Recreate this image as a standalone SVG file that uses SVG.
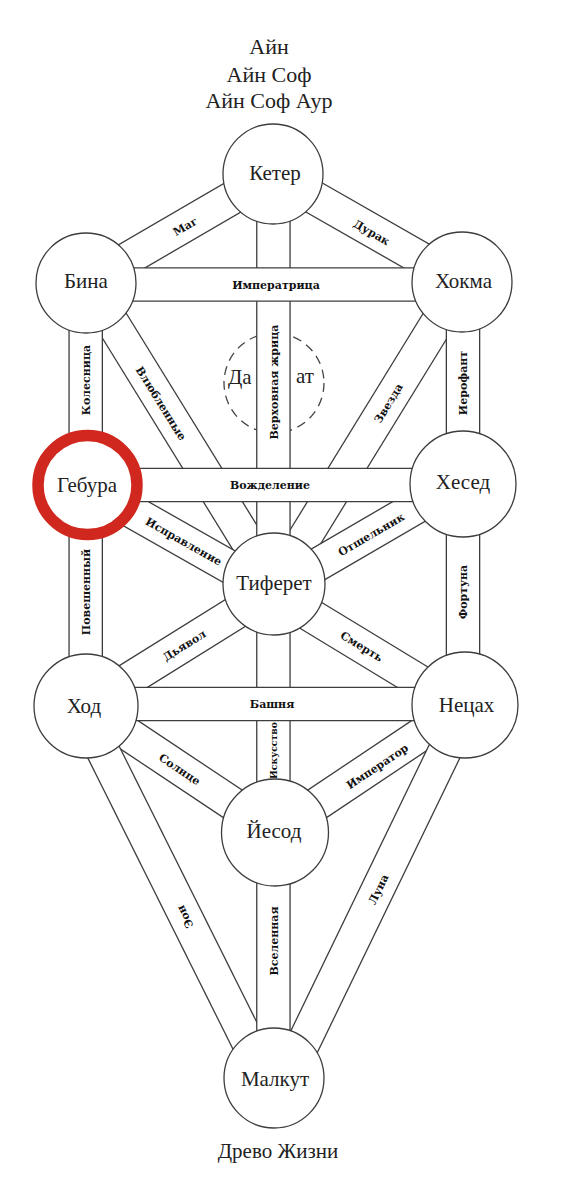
<svg xmlns="http://www.w3.org/2000/svg" width="563" height="1200" viewBox="0 0 563 1200">
<style>
.o{stroke:#3d3d3d;stroke-width:34.6;fill:none}
.i{stroke:#fff;stroke-width:32;fill:none}
.n{fill:#fff;stroke:#3d3d3d;stroke-width:1.3}
.t{font-family:"Liberation Serif","DejaVu Serif",serif;font-size:21px;fill:#222;text-anchor:middle}
.h{font-family:"Liberation Serif","DejaVu Serif",serif;font-size:22px;fill:#222;text-anchor:middle}
.l{font-family:"DejaVu Serif",serif;font-weight:bold;font-size:11px;fill:#111;text-anchor:middle}
</style>
<rect width="563" height="1200" fill="#fff"/>
<g id="title">
<text class="h" x="269" y="54">Айн</text>
<text class="h" x="269" y="82">Айн Соф</text>
<text class="h" x="269" y="108">Айн Соф Аур</text>
</g>
<g id="daat">
<circle cx="274" cy="383" r="50" fill="none" stroke="#444" stroke-width="1.3" stroke-dasharray="9 6"/>
<text class="t" x="228" y="384" style="text-anchor:start">Да</text>
<text class="t" x="296" y="383" style="text-anchor:start">ат</text>
</g>
<g id="connectors">
<g id="c-mag"><line class="o" x1="86" y1="283" x2="273" y2="174"/><line class="i" x1="86" y1="283" x2="273" y2="174"/></g>
<g id="c-durak"><line class="o" x1="273" y1="174" x2="462" y2="282"/><line class="i" x1="273" y1="174" x2="462" y2="282"/></g>
<g id="c-lovers"><line class="o" x1="88" y1="283" x2="273" y2="583"/><line class="i" x1="88" y1="283" x2="273" y2="583"/></g>
<g id="c-star"><line class="o" x1="462" y1="282" x2="277" y2="583"/><line class="i" x1="462" y1="282" x2="277" y2="583"/></g>
<g id="c-adjust"><line class="o" x1="87" y1="486" x2="274" y2="592"/><line class="i" x1="87" y1="486" x2="274" y2="592"/></g>
<g id="c-hermit"><line class="o" x1="463" y1="480" x2="274" y2="590"/><line class="i" x1="463" y1="480" x2="274" y2="590"/></g>
<g id="c-devil"><line class="o" x1="274" y1="589" x2="86" y2="706"/><line class="i" x1="274" y1="589" x2="86" y2="706"/></g>
<g id="c-death"><line class="o" x1="274" y1="593" x2="465" y2="709"/><line class="i" x1="274" y1="593" x2="465" y2="709"/></g>
<g id="c-sun"><line class="o" x1="86" y1="706" x2="275" y2="832"/><line class="i" x1="86" y1="706" x2="275" y2="832"/></g>
<g id="c-emperor"><line class="o" x1="465" y1="705" x2="275" y2="832"/><line class="i" x1="465" y1="705" x2="275" y2="832"/></g>
<g id="c-aeon"><line class="o" x1="80.5" y1="706" x2="266" y2="1078"/><line class="i" x1="80.5" y1="706" x2="266" y2="1078"/></g>
<g id="c-moon"><line class="o" x1="467" y1="705" x2="286.5" y2="1078"/><line class="i" x1="467" y1="705" x2="286.5" y2="1078"/></g>
<g id="c-priestess"><line class="o" x1="273.4" y1="174" x2="273.4" y2="584"/><line class="i" x1="273.4" y1="174" x2="273.4" y2="584"/></g>
<g id="c-chariot"><line class="o" x1="85.7" y1="283" x2="85.7" y2="485"/><line class="i" x1="85.7" y1="283" x2="85.7" y2="485"/></g>
<g id="c-hanged"><line class="o" x1="85.7" y1="485" x2="85.7" y2="706"/><line class="i" x1="85.7" y1="485" x2="85.7" y2="706"/></g>
<g id="c-hierophant"><line class="o" x1="463" y1="282" x2="463" y2="484"/><line class="i" x1="463" y1="282" x2="463" y2="484"/></g>
<g id="c-fortune"><line class="o" x1="463" y1="484" x2="463" y2="705"/><line class="i" x1="463" y1="484" x2="463" y2="705"/></g>
<g id="c-art"><line class="o" x1="273.4" y1="584" x2="273.4" y2="832"/><line class="i" x1="273.4" y1="584" x2="273.4" y2="832"/></g>
<g id="c-universe"><line class="o" x1="273.4" y1="832" x2="273.4" y2="1078"/><line class="i" x1="273.4" y1="832" x2="273.4" y2="1078"/></g>
<g id="c-empress"><line class="o" x1="86" y1="284.5" x2="462" y2="284.5"/><line class="i" x1="86" y1="284.5" x2="462" y2="284.5"/></g>
<g id="c-lust"><line class="o" x1="87" y1="485" x2="463" y2="485"/><line class="i" x1="87" y1="485" x2="463" y2="485"/></g>
<g id="c-tower"><line class="o" x1="86" y1="704" x2="465" y2="704"/><line class="i" x1="86" y1="704" x2="465" y2="704"/></g>
</g>
<g id="connector-labels">
<text class="l" dy=".4em" transform="translate(185 226) rotate(-30.2)">Маг</text>
<text class="l" dy=".4em" transform="translate(372 232) rotate(29.7)">Дурак</text>
<text class="l" dy=".4em" transform="translate(276 285)">Императрица</text>
<text class="l" dy=".4em" transform="translate(85.7 380) rotate(-90)">Колесница</text>
<text class="l" dy=".4em" transform="translate(161.5 403) rotate(58)">Влюбленные</text>
<text class="l" dy=".4em" transform="translate(273.4 382) rotate(-90)">Верховная жрица</text>
<text class="l" dy=".4em" transform="translate(388 403) rotate(-58.5)">Звезда</text>
<text class="l" dy=".4em" transform="translate(463 383) rotate(-90)">Иерофант</text>
<text class="l" dy=".4em" transform="translate(270 485)">Вожделение</text>
<text class="l" dy=".4em" transform="translate(184 541) rotate(29.5)">Исправление</text>
<text class="l" dy=".4em" transform="translate(371 534) rotate(-30.2)">Отшельник</text>
<text class="l" dy=".4em" transform="translate(85.7 592) rotate(-90)">Повешенный</text>
<text class="l" dy=".4em" transform="translate(463 592) rotate(-90)">Фортуна</text>
<text class="l" dy=".4em" transform="translate(184 645) rotate(-31.9)">Дьявол</text>
<text class="l" dy=".4em" transform="translate(362 646) rotate(31.3)">Смерть</text>
<text class="l" dy=".4em" transform="translate(272 704)">Башня</text>
<text class="l" dy=".4em" style="font-size:9.3px" transform="translate(273.4 750.5) rotate(-90)">Искусство</text>
<text class="l" dy=".4em" transform="translate(180 769) rotate(33.7)">Солнце</text>
<text class="l" dy=".4em" transform="translate(377 766) rotate(-33.7)">Император</text>
<text class="l" dy=".4em" transform="translate(184.5 917) rotate(-116.5)">Эон</text>
<text class="l" dy=".4em" transform="translate(378 889) rotate(-64.2)">Луна</text>
<text class="l" dy=".4em" transform="translate(273.4 941) rotate(-90)">Вселенная</text>
</g>
<g id="keter"><circle class="n" cx="273" cy="174" r="50"/><text class="t" x="275" y="180">Кетер</text></g>
<g id="bina"><circle class="n" cx="86" cy="283" r="50"/><text class="t" x="86" y="288">Бина</text></g>
<g id="hokma"><circle class="n" cx="462" cy="282" r="50"/><text class="t" x="463.5" y="288">Хокма</text></g>
<g id="gebura"><circle cx="87.5" cy="485" r="49.5" fill="#fff" stroke="#d0281e" stroke-width="11.5"/><text class="t" x="87" y="492">Гебура</text></g>
<g id="hesed"><circle class="n" cx="463" cy="484" r="53"/><text class="t" x="463" y="489">Хесед</text></g>
<g id="tiferet"><circle class="n" cx="274" cy="584" r="51"/><text class="t" x="274" y="590">Тиферет</text></g>
<g id="hod"><circle class="n" cx="86" cy="706" r="52"/><text class="t" x="84" y="713">Ход</text></g>
<g id="netzah"><circle class="n" cx="465" cy="705" r="53"/><text class="t" x="466.5" y="711.5">Нецах</text></g>
<g id="yesod"><circle class="n" cx="275" cy="832.5" r="53.5"/><text class="t" x="274" y="838">Йесод</text></g>
<g id="malkut"><circle class="n" cx="274" cy="1078" r="50"/><text class="t" x="275" y="1086">Малкут</text></g>
<g id="caption"><text class="t" x="278" y="1158">Древо Жизни</text></g>
</svg>
